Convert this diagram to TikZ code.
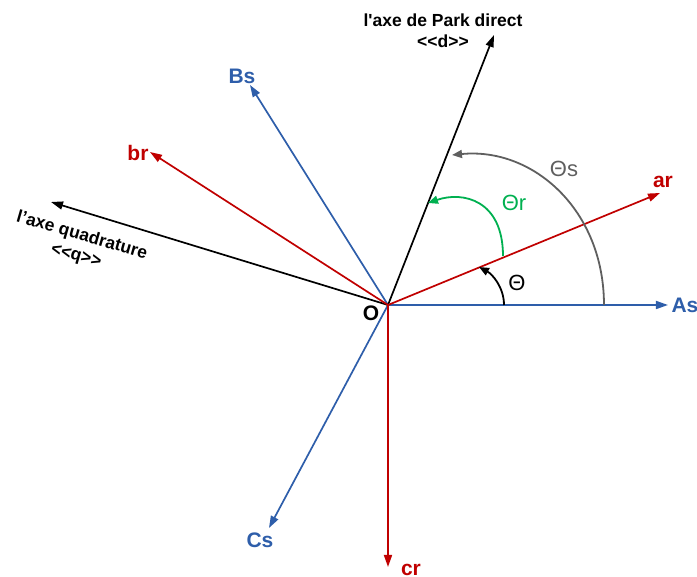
\documentclass[tikz,border=0pt]{standalone}
\usepackage{fontspec}
\newfontfamily\arial{Liberation Sans}
\usetikzlibrary{arrows.meta}
\definecolor{axblue}{RGB}{46,94,170}
\definecolor{axred}{RGB}{192,0,0}
\definecolor{axgreen}{RGB}{0,176,80}
\definecolor{axgray}{RGB}{95,95,95}

\begin{document}
\begin{tikzpicture}[
  x=1pt, y=1pt,
  vec/.style={-{Triangle[length=12pt,width=8pt]}, line width=1.7pt},
  ang/.style={-{Triangle[length=10pt,width=8pt]}, line width=1.8pt},
  lbl/.style={font=\arial\fontsize{21}{24}\selectfont\bfseries, inner sep=0pt},
  axlbl/.style={font=\arial\fontsize{17.5}{21}\selectfont\bfseries, align=center, inner sep=0pt},
  anglbl/.style={font=\arial\fontsize{22}{24}\selectfont, inner sep=0pt}
]
\useasboundingbox (-388,-272) rectangle (309,305);

% --- origin and tips of the vectors ---
\coordinate (O) at (0,0);
\coordinate (tAs) at (280,0);
\coordinate (tBs) at (-138,220);
\coordinate (tCs) at (-119,-223);
\coordinate (tar) at (272,112);
\coordinate (tbr) at (-238,153);
\coordinate (tcr) at (0,-262);
\coordinate (td) at (106,270);
\coordinate (tq) at (-337,103);

% --- stator axes ---
\foreach \t in {tAs,tBs,tCs} { \draw[vec, axblue] (O) -- (\t); }
% --- Park axes ---
\foreach \t in {td,tq} { \draw[vec, black] (O) -- (\t); }
% --- rotor axes ---
\foreach \t in {tar,tbr,tcr} { \draw[vec, axred] (O) -- (\t); }

% --- labels ---
\node[lbl, text=axblue] (As) at (297,0) {As};
\node[lbl, text=axblue] (Bs) at (-146,229) {Bs};
\node[lbl, text=axblue] (Cs) at (-128,-235) {Cs};
\node[lbl, text=axred] (ar) at (275,123) {ar};
\node[lbl, text=axred] (br) at (-250,152) {br};
\node[lbl, text=axred] (cr) at (23,-265) {cr};
\node[lbl] (Olbl) at (-17,-8) {O};
\node[axlbl] (dlbl) at (55,274) {l'axe de Park direct\\<<d>>};
\node[axlbl, rotate=-16] (qlbl) at (-309,59) {l’axe quadrature\\<<q>>};

% --- angles ---
\coordinate (a0) at (116,0);
\coordinate (a1) at (91,38);
\coordinate (r0) at (115,49);
\coordinate (r1) at (40,102);
\coordinate (s0) at (216,0);
\coordinate (s1) at (64,150);
\draw[ang, black] (a0) .. controls (116,18) and (104,31) .. (a1);
\draw[ang, axgreen] (r0) .. controls (115,105) and (75,114) .. (r1);
\draw[ang, axgray] (s0) .. controls (216,95) and (145,158) .. (s1);

\node[anglbl] (th) at (129,22) {Θ};
\node[anglbl, text=axgreen] (thr) at (126,102) {Θr};
\node[anglbl, text=axgray] (ths) at (176,136) {Θs};

\end{tikzpicture}
\end{document}
